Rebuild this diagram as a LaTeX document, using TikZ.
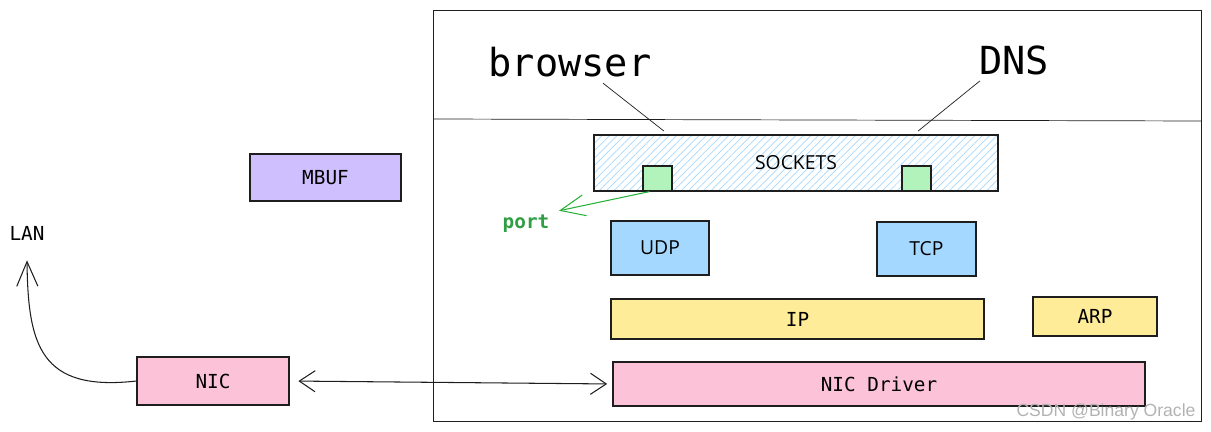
\documentclass[tikz,border=0pt]{standalone}
\usepackage{fontspec}
\setmainfont{Open Sans}
\setsansfont{Open Sans}
\setmonofont{DejaVu Sans Mono}
\usetikzlibrary{arrows.meta, patterns.meta, positioning}

\definecolor{ink}{HTML}{1E1E1E}
\definecolor{blu}{HTML}{A5D8FF}
\definecolor{grn}{HTML}{B2F2BB}
\definecolor{ylw}{HTML}{FFEC99}
\definecolor{pnk}{HTML}{FCC2D7}
\definecolor{vlt}{HTML}{D0BFFF}
\definecolor{portc}{HTML}{2F9E44}

\begin{document}
\begin{tikzpicture}[
  x=0.02cm, y=-0.02cm,
  box/.style={draw=ink, line width=0.7pt, inner sep=0pt,
    font=\ttfamily\fontsize{11}{13}\selectfont},
  sbox/.style={box, font=\sffamily\fontsize{11}{13}\selectfont},
  big/.style={font=\ttfamily\fontsize{22}{26}\selectfont},
  barb/.style={line width=0.6pt, -{Straight Barb[length=14pt,width=12pt]}},
  thin]

  \useasboundingbox (0,0) rectangle (1211,432);

  % host frame
  \draw[ink] (433,10) rectangle (1201,421);
  \draw[ink] (433,119) -- (1201,121);

  % user space
  \node[big] (browser) at (570,62) {browser};
  \node[big] (dns) at (1014,60) {DNS};

  % kernel
  \node[sbox, minimum width=8.08cm, minimum height=1.12cm,
    pattern={Lines[angle=45,distance=3pt,line width=0.4pt]}, pattern color=blu]
    (sockets) at (796,163) {SOCKETS};
  \node[box, fill=grn, minimum width=0.58cm, minimum height=0.5cm] (p1) at (657.5,178.5) {};
  \node[box, fill=grn, minimum width=0.58cm, minimum height=0.5cm] (p2) at (916.5,178.5) {};
  \node[font=\ttfamily\bfseries\fontsize{11}{13}\selectfont, text=portc] (port) at (526,224) {port};

  \node[sbox, fill=blu, minimum width=1.96cm, minimum height=1.08cm] (udp) at (660,248) {UDP};
  \node[sbox, fill=blu, minimum width=1.98cm, minimum height=1.08cm] (tcp) at (926.5,249) {TCP};
  \node[box, fill=ylw, minimum width=7.46cm, minimum height=0.8cm] (ip) at (797.5,319) {IP};
  \node[box, fill=ylw, minimum width=2.48cm, minimum height=0.78cm] (arp) at (1095,316.5) {ARP};
  \node[box, fill=pnk, minimum width=10.64cm, minimum height=0.88cm] (driver) at (879,384) {NIC Driver};

  % outside
  \node[box, fill=vlt, minimum width=3.02cm, minimum height=0.94cm] (mbuf) at (325.5,177.5) {MBUF};
  \node[box, fill=pnk, minimum width=3.04cm, minimum height=0.96cm] (nic) at (213,381) {NIC};
  \node[font=\ttfamily\fontsize{11}{13}\selectfont] (lan) at (27,233) {LAN};

  \draw[ink] ([xshift=0.66cm]browser.south) -- ([xshift=-2.64cm, yshift=2pt]sockets.north);
  \draw[ink] ([xshift=-0.68cm]dns.south) -- ([xshift=2.44cm, yshift=2pt]sockets.north);
  \draw[barb, portc!80!green] ([xshift=4pt]p1.south west) -- ([xshift=2pt, yshift=-1pt]port.north east);
  \draw[barb, ink] (nic.west) .. controls (40,392) and (28,345) .. ([yshift=-8pt]lan.south);
  \draw[barb, ink, {Straight Barb[length=9pt,width=12pt]}-{Straight Barb[length=9pt,width=12pt]},
    shorten <=5pt, shorten >=3pt] (nic.east) -- (driver.west);

  \node[font=\fontspec{Liberation Sans}\fontsize{10}{12}\selectfont, text=black!30] (mark) at (1106,412) {CSDN @Binary Oracle};
\end{tikzpicture}
\end{document}
